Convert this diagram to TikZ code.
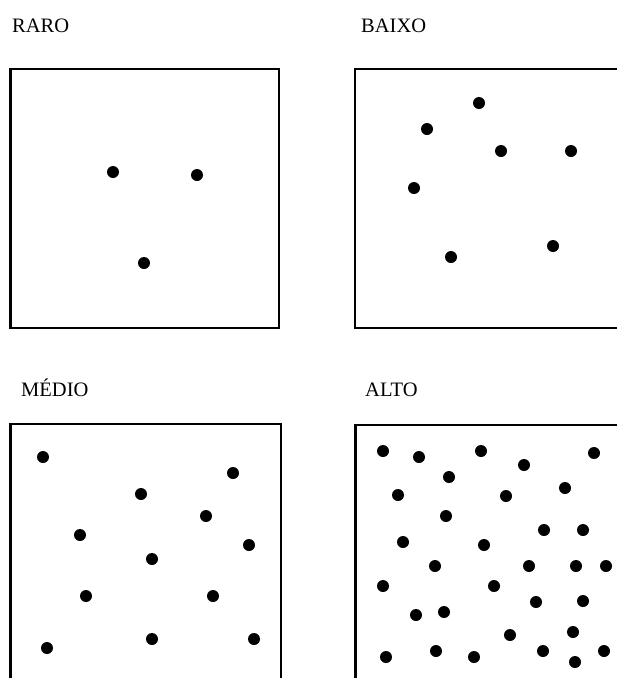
\documentclass[tikz,border=0pt]{standalone}
\usepackage{fontspec}
\setmainfont{Liberation Serif}
\usepackage{tikz}
\usetikzlibrary{positioning}

\begin{document}
\begin{tikzpicture}[x=1pt,y=-1pt,
  panel/.style={draw,line width=2.6pt},
  lbl/.style={inner sep=0pt,anchor=base west,font=\fontsize{20.5}{24}\selectfont},
  dot/.style={fill=black}]
  \useasboundingbox (0,0) rectangle (617,678);
  \clip (0,0) rectangle (617,678);
  % labels
  \node[lbl] (raro) at (12,32) {RARO};
  \node[lbl] (baixo) at (361,32) {BAIXO};
  \node[lbl] (medio) at (21,396) {MÉDIO};
  \node[lbl] (alto) at (365,396) {ALTO};
  % boxes
  \draw[panel] (10.5,69) rectangle (279,328);
  \draw[panel] (355,69) rectangle (640,328);
  \draw[panel] (10.5,424) rectangle (281,700);
  \draw[panel] (355.5,425) rectangle (640,700);
  % dots
  \foreach \x/\y in {113/172,197/175,144/263}
    \fill[dot] (\x,\y) circle (6pt);
  \foreach \x/\y in {479/103,427/129,501/151,571/151,414/188,553/246,451/257}
    \fill[dot] (\x,\y) circle (6pt);
  \foreach \x/\y in {43/457,233/473,141/494,206/516,80/535,249/545,152/559,
                     86/596,213/596,47/648,152/639,254/639}
    \fill[dot] (\x,\y) circle (6pt);
  \foreach \x/\y in {383/451,419/457,481/451,524/465,594/453,449/477,398/495,
                     506/496,565/488,446/516,544/530,583/530,403/542,484/545,
                     435/566,529/566,576/566,606/566,383/586,494/586,536/602,
                     583/601,416/615,444/612,510/635,573/632,386/657,436/651,
                     474/657,543/651,575/662,604/651}
    \fill[dot] (\x,\y) circle (6pt);
\end{tikzpicture}
\end{document}
